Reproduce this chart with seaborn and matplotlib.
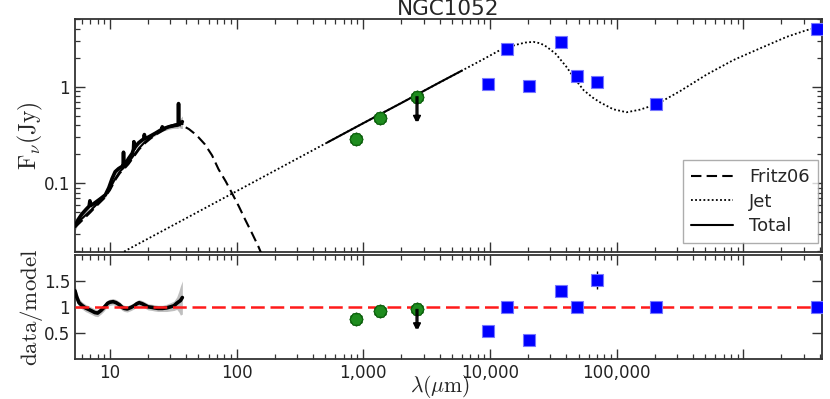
import numpy as np
import pandas as pd
import matplotlib
matplotlib.use("Agg")
import matplotlib.pyplot as plt
import seaborn as sns
from matplotlib.ticker import FuncFormatter, LogLocator, NullFormatter, FixedLocator, NullLocator

# ---------------- data ----------------
# IR spectrum (micron, Jy)
spec_wave = [5.3, 5.6, 6.0, 6.5, 6.85, 6.95, 7.05, 7.5, 8.0, 8.5, 9.2, 9.8, 10.4, 11.0, 11.7,
             12.4, 12.7, 12.8, 12.9, 13.3, 14.0, 15.0, 15.35, 15.45, 15.55, 15.9, 16.8, 17.9,
             18.6, 18.7, 18.8, 20.0, 22.8, 25.0, 25.8, 25.9, 26.0, 27.5, 29.1, 31.5, 33.5,
             34.6, 34.8, 35.0, 35.7, 36.5, 37.3]
spec_flux = [0.036, 0.042, 0.048, 0.054, 0.058, 0.066, 0.059, 0.062, 0.066, 0.070, 0.076, 0.090,
             0.112, 0.132, 0.142, 0.149, 0.152, 0.210, 0.154, 0.160, 0.180, 0.205, 0.225, 0.270,
             0.230, 0.240, 0.262, 0.280, 0.290, 0.320, 0.292, 0.300, 0.330, 0.355, 0.365, 0.385,
             0.367, 0.375, 0.385, 0.395, 0.400, 0.405, 0.670, 0.415, 0.420, 0.425, 0.435]
spec_err = [0.004, 0.004, 0.004, 0.004, 0.004, 0.004, 0.004, 0.004, 0.004, 0.005, 0.005, 0.006,
            0.007, 0.008, 0.008, 0.009, 0.009, 0.010, 0.009, 0.009, 0.010, 0.011, 0.011, 0.012,
            0.012, 0.012, 0.014, 0.015, 0.016, 0.016, 0.016, 0.016, 0.018, 0.019, 0.020, 0.020,
            0.020, 0.021, 0.022, 0.024, 0.028, 0.035, 0.040, 0.040, 0.045, 0.055, 0.065]

# Fritz06 torus model
fritz_wave = [5.3, 6, 7, 8, 9, 10, 11, 12, 13, 14, 15.5, 17, 19, 21, 24, 27, 30, 33, 35.5, 38,
              42, 46, 50, 56, 64, 72, 82, 92, 104, 117, 133, 149, 165]
fritz_flux = [0.035, 0.041, 0.050, 0.060, 0.070, 0.085, 0.108, 0.128, 0.142, 0.158, 0.190, 0.225,
              0.262, 0.292, 0.330, 0.360, 0.382, 0.396, 0.400, 0.392, 0.365, 0.332, 0.300, 0.255,
              0.195, 0.140, 0.105, 0.079, 0.058, 0.042, 0.030, 0.022, 0.016]

# Jet model
jet_wave = [10, 13.6, 100, 1000, 6000, 9000, 12000, 16000, 19000, 22000, 25000, 28000, 33000, 40000,
            47000, 55000, 65000, 74000, 94000, 120000, 153000, 207000, 316000, 514000, 834000,
            1.355e6, 2.2e6, 3.16e6, 4.4e6]
jet_flux = [0.016, 0.0204, 0.083, 0.42, 1.47, 1.95, 2.40, 2.72, 2.87, 2.92, 2.82, 2.60, 2.20, 1.62,
            1.20, 0.92, 0.77, 0.69, 0.585, 0.545, 0.58, 0.66, 0.90, 1.34, 1.89, 2.50, 3.29, 3.86,
            4.25]

# Total model (drawn where data exist)
total_ir_wave = [5.3, 6, 7, 8, 9, 10, 11, 12, 13, 14, 15.5, 17, 19, 21, 24, 27, 30, 33, 36, 37.5]
total_ir_flux = [0.037, 0.043, 0.052, 0.062, 0.073, 0.088, 0.112, 0.133, 0.147, 0.164, 0.197,
                 0.232, 0.270, 0.301, 0.340, 0.371, 0.394, 0.409, 0.414, 0.412]
total_mm_wave = [520, 1000, 2000, 4000, 6000]
total_mm_flux = [0.265, 0.42, 0.68, 1.11, 1.47]

# Photometry: sub-mm (green) and radio (blue)
green_wave = [875, 1355, 2655]
green_flux = [0.287, 0.48, 0.79]
blue_wave = [9590, 13620, 20300, 36100, 48600, 69500, 204000, 3.79e6]
blue_flux = [1.07, 2.45, 1.02, 2.92, 1.29, 1.13, 0.66, 3.98]
blue_err = [0.08, 0.06, 0.08, 0.10, 0.06, 0.10, 0.03, 0.08]
uplim_wave = 2655
uplim_low = 0.43

# residuals (data/model)
res_wave = [5.3, 5.45, 5.7, 6.0, 6.4, 6.8, 7.2, 7.6, 8.0, 8.5, 9.0, 9.6, 10.0, 10.6, 11.2, 11.9,
            12.5, 13.0, 13.7, 14.7, 15.5, 16.3, 17.0, 18.0, 19.0, 20.0, 21.5, 22.5, 24.0, 26.0,
            28.0, 30.0, 32.0, 33.7, 35.0, 36.0, 37.3]
res_ratio = [1.31, 1.20, 1.08, 1.03, 0.98, 0.95, 0.92, 0.89, 0.88, 0.93, 0.99, 1.07, 1.09, 1.10,
             1.08, 1.04, 0.99, 0.97, 0.96, 0.99, 1.02, 1.06, 1.08, 1.06, 1.03, 1.00, 0.99, 0.98,
             0.97, 0.97, 0.98, 1.00, 1.02, 1.07, 1.10, 1.12, 1.18]
res_err = [0.12, 0.10, 0.08, 0.07, 0.07, 0.07, 0.07, 0.07, 0.07, 0.07, 0.07, 0.06, 0.06, 0.06,
           0.06, 0.06, 0.06, 0.06, 0.06, 0.06, 0.06, 0.06, 0.06, 0.06, 0.06, 0.06, 0.06, 0.06,
           0.06, 0.06, 0.07, 0.08, 0.09, 0.12, 0.20, 0.28, 0.32]
green_ratio = [0.77, 0.92, 0.95]
uplim_ratio_low = 0.56
blue_ratio = [0.54, 0.99, 0.36, 1.31, 1.00, 1.52, 1.00, 1.00]
blue_ratio_err = [0.04, 0.03, 0.03, 0.03, 0.03, 0.17, 0.02, 0.04]

x_ticks = [10, 100, 1000, 10000, 100000, 1e6]

# ---------------- style ----------------
sns.set_theme(style="ticks")
plt.rcParams["font.family"] = ["DejaVu Sans"]
plt.rcParams["mathtext.fontset"] = "cm"

W, H = 830, 399
fig = plt.figure(figsize=(W / 100, H / 100), dpi=100)
L, R = 75, 822
ax1 = fig.add_axes([L / W, 1 - 251.7 / H, (R - L) / W, (251.7 - 19.3) / H])
ax2 = fig.add_axes([L / W, 1 - 358.7 / H, (R - L) / W, (358.7 - 255) / H])

for ax in (ax1, ax2):
    ax.set_xscale("log")
ax1.set_yscale("log")

spine_col = "#333333"

# ---------------- top panel ----------------
sw = np.array(spec_wave); sf = np.array(spec_flux); se = np.array(spec_err)
ax1.fill_between(sw, sf - se, sf + se, color="0.55", alpha=0.6, lw=0, zorder=2)
sns.lineplot(x=spec_wave, y=spec_flux, ax=ax1, color="black", lw=2.6, estimator=None, sort=False, zorder=3)

l_fritz = sns.lineplot(x=fritz_wave, y=fritz_flux, ax=ax1, color="black", lw=1.5,
                       linestyle=(0, (5, 2.5)), estimator=None, zorder=4).lines[-1]
l_jet = sns.lineplot(x=jet_wave, y=jet_flux, ax=ax1, color="black", lw=1.3,
                     linestyle=(0, (1, 1.3)), estimator=None, zorder=4).lines[-1]
l_tot = sns.lineplot(x=total_ir_wave, y=total_ir_flux, ax=ax1, color="black", lw=1.5,
                     estimator=None, zorder=4).lines[-1]
sns.lineplot(x=total_mm_wave, y=total_mm_flux, ax=ax1, color="black", lw=1.5,
             estimator=None, zorder=4)

green_col = "#1e8c1e"
green_edge = "#0b5e0b"
for mk in ("h", "H"):
    ax1.plot(green_wave, green_flux, ls="none", marker=mk, ms=9.5, mfc=green_col,
             mec=green_edge, mew=0.8, zorder=6)
ax1.errorbar(blue_wave, blue_flux, yerr=blue_err, fmt="s", ms=8.5, mfc="#0000ff",
             mec="#7777ff", mew=0.8, ecolor="black", elinewidth=1.0, capsize=0, zorder=6)
for dx in (0.985, 1.015):
    ax1.annotate("", xy=(uplim_wave * dx, uplim_low), xytext=(uplim_wave * dx, green_flux[2]),
                 arrowprops=dict(arrowstyle="-|>", color="black", lw=1.1,
                                 mutation_scale=9, shrinkA=0, shrinkB=0), zorder=7)

ax1.set_ylim(0.0196, 5.0)
ax1.set_title("NGC1052", fontsize=15.5, pad=1.5)
ax1.set_ylabel(r"$\mathrm{F}_{\nu}(\mathrm{Jy})$", fontsize=17)
ax1.yaxis.set_label_coords(-0.040, 0.5)

leg = ax1.legend(handles=[l_fritz, l_jet, l_tot], labels=["Fritz06", "Jet", "Total"],
                 loc="lower right", bbox_to_anchor=(0.9946, 0.037), borderaxespad=0,
                 fontsize=13, frameon=True, fancybox=False, handlelength=2.3,
                 labelspacing=0.35, borderpad=0.45, handletextpad=0.9)
leg.get_frame().set_edgecolor("#999999")
leg.get_frame().set_linewidth(1.0)

# ---------------- bottom panel ----------------
rw = np.array(res_wave); rr = np.array(res_ratio); re_ = np.array(res_err)
ax2.fill_between(rw, rr - re_, rr + re_, color="0.55", alpha=0.55, lw=0, zorder=2)
sns.lineplot(x=res_wave, y=res_ratio, ax=ax2, color="black", lw=2.6, estimator=None, zorder=3)
ax2.axhline(1.0, color="#ff1a1a", lw=1.8, linestyle=(0, (5.5, 2.3)), zorder=4)

for mk in ("h", "H"):
    ax2.plot(green_wave, green_ratio, ls="none", marker=mk, ms=9.5, mfc=green_col,
             mec=green_edge, mew=0.8, zorder=6)
ax2.errorbar(blue_wave, blue_ratio, yerr=blue_ratio_err, fmt="s", ms=8.5, mfc="#0000ff",
             mec="#7777ff", mew=0.8, ecolor="black", elinewidth=1.0, capsize=0, zorder=6)
for dx in (0.985, 1.015):
    ax2.annotate("", xy=(uplim_wave * dx, uplim_ratio_low), xytext=(uplim_wave * dx, green_ratio[2]),
                 arrowprops=dict(arrowstyle="-|>", color="black", lw=1.1,
                                 mutation_scale=9, shrinkA=0, shrinkB=0), zorder=7)

ax2.set_ylim(0.0, 2.0)
ax2.yaxis.set_major_locator(FixedLocator([0.5, 1.0, 1.5]))
ax2.yaxis.set_major_formatter(FuncFormatter(lambda v, p: f"{v:g}"))
ax2.yaxis.set_minor_locator(NullLocator())
ax2.set_ylabel(r"$\mathrm{data/model}$", fontsize=16.5)
ax2.yaxis.set_label_coords(-0.040, 0.5)
ax2.set_xlabel(r"$\lambda(\mu\mathrm{m})$", fontsize=15.5)
ax2.xaxis.set_label_coords((440 - L) / (R - L), -(373 - 358.7) / (358.7 - 255))

# ---------------- axes cosmetics ----------------
xlim = (5.3, 4.18e6)
for ax in (ax1, ax2):
    ax.set_xlim(*xlim)
    ax.xaxis.set_major_locator(FixedLocator(x_ticks))
    ax.xaxis.set_minor_locator(LogLocator(base=10, subs=np.arange(2, 10), numticks=20))
    ax.xaxis.set_minor_formatter(NullFormatter())
    ax.tick_params(which="both", direction="in", top=True, right=True, color=spine_col,
                   labelcolor="#222222", labelsize=12)
    ax.tick_params(which="major", length=7, width=1.0)
    ax.tick_params(which="minor", length=3.5, width=0.9)
    for s in ax.spines.values():
        s.set_color(spine_col)
        s.set_linewidth(1.3)
    ax.grid(False)

ax1.tick_params(labelbottom=False)
ax1.yaxis.set_major_locator(LogLocator(base=10, numticks=10))
ax1.yaxis.set_major_formatter(FuncFormatter(lambda v, p: f"{v:g}"))
ax1.yaxis.set_minor_locator(LogLocator(base=10, subs=np.arange(2, 10), numticks=20))
ax1.yaxis.set_minor_formatter(NullFormatter())
ax2.xaxis.set_major_formatter(FuncFormatter(lambda v, p: f"{v:,.0f}" if v <= 1e5 else ""))

fig.savefig("out.png", dpi=100)
